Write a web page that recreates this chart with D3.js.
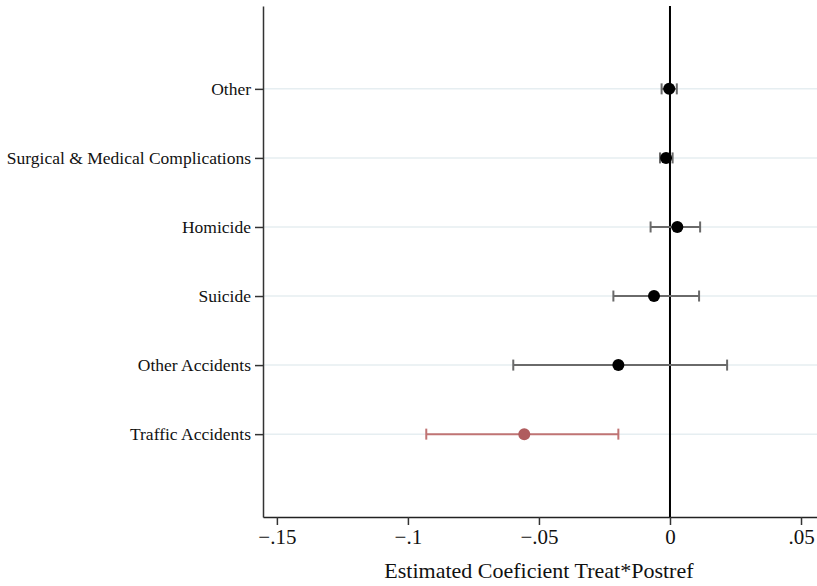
<!DOCTYPE html>
<html>
<head>
    <meta charset="utf-8">
    <title>Coefficient plot</title>
    <style>
        body { margin: 0; background: #fff; }
        text { font-family: "Liberation Serif", "Times New Roman", serif; fill: #111; }
    </style>
    <script src="https://d3js.org/d3.v7.min.js"></script>
</head>
<body>
<div id="chart"></div>
<script>
    // categories, top to bottom
    const categories = ["Other", "Surgical & Medical Complications", "Homicide", "Suicide", "Other Accidents", "Traffic Accidents"];
    // point estimates and 95% CI bounds
    const estimates = [-0.0003, -0.0015, 0.0028, -0.0061, -0.0197, -0.0556];
    const lower = [-0.0032, -0.0038, -0.0074, -0.0216, -0.0598, -0.0930];
    const upper = [0.0026, 0.0010, 0.0115, 0.0111, 0.0218, -0.0197];
    const xTicks = [-0.15, -0.1, -0.05, 0, 0.05];
    const xTickLabels = ["\u2212.15", "\u2212.1", "\u2212.05", "0", ".05"];

    const margin = {top: 6, right: 0, bottom: 69, left: 263},
        width = 817 - margin.left - margin.right,
        height = 586 - margin.top - margin.bottom;

    const svg = d3.select("#chart")
        .append("svg")
        .attr("width", 817)
        .attr("height", 586)
        .append("g")
        .attr("transform", `translate(${margin.left}, ${margin.top})`);

    const x = d3.scaleLinear()
        .domain([-0.1553, 0.0561])
        .range([0, width]);

    const y = d3.scalePoint()
        .domain(categories.slice().reverse())
        .range([height, 0])
        .padding(1.2);

    // light gridlines
    svg.append("g")
        .selectAll("line")
        .data(categories)
        .join("line")
        .attr("x1", 0)
        .attr("x2", width)
        .attr("y1", d => y(d))
        .attr("y2", d => y(d))
        .attr("stroke", "#e6eef1")
        .attr("stroke-width", 1.5);

    // y axis
    const yAxis = svg.append("g")
        .call(d3.axisLeft(y).tickSize(8).tickPadding(4).tickSizeOuter(0));
    yAxis.select(".domain").attr("stroke", "#333").attr("stroke-width", 1.5);
    yAxis.selectAll(".tick line").attr("stroke", "#333").attr("stroke-width", 1.5);
    yAxis.selectAll("text").style("font-size", "17.5px").attr("fill", "#111");

    // x axis
    const xAxis = svg.append("g")
        .attr("transform", `translate(0, ${height})`)
        .call(d3.axisBottom(x).tickValues(xTicks)
            .tickFormat((d, i) => xTickLabels[i])
            .tickSize(8).tickPadding(4).tickSizeOuter(0));
    xAxis.select(".domain").attr("stroke", "#222").attr("stroke-width", 1.5);
    xAxis.selectAll(".tick line").attr("stroke", "#333").attr("stroke-width", 1.5);
    xAxis.selectAll("text").style("font-size", "21px").attr("fill", "#111");

    // x axis title
    svg.append("text")
        .attr("text-anchor", "middle")
        .attr("x", x(-0.05))
        .attr("y", height + 61)
        .style("font-size", "22px")
        .text("Estimated Coeficient Treat*Postref");

    // reference line at zero
    svg.append("line")
        .attr("x1", x(0))
        .attr("x2", x(0))
        .attr("y1", 0)
        .attr("y2", height)
        .attr("stroke", "#000")
        .attr("stroke-width", 2);

    const rows = categories.map((c, i) => ({
        cat: c, est: estimates[i], lo: lower[i], hi: upper[i],
        highlight: c === "Traffic Accidents"
    }));

    const ciColor = d => d.highlight ? "#c07474" : "#6a6a6a";
    const dotColor = d => d.highlight ? "#b05c5e" : "#000";

    const g = svg.append("g")
        .selectAll("g")
        .data(rows)
        .join("g");

    g.append("line")
        .attr("x1", d => x(d.lo))
        .attr("x2", d => x(d.hi))
        .attr("y1", d => y(d.cat))
        .attr("y2", d => y(d.cat))
        .attr("stroke", ciColor)
        .attr("stroke-width", 2);

    g.selectAll(".cap")
        .data(d => [{v: d.lo, d: d}, {v: d.hi, d: d}])
        .join("line")
        .attr("class", "cap")
        .attr("x1", c => x(c.v))
        .attr("x2", c => x(c.v))
        .attr("y1", c => y(c.d.cat) - 5.5)
        .attr("y2", c => y(c.d.cat) + 5.5)
        .attr("stroke", c => ciColor(c.d))
        .attr("stroke-width", 2);

    g.append("circle")
        .attr("cx", d => x(d.est))
        .attr("cy", d => y(d.cat))
        .attr("r", 6)
        .attr("fill", dotColor);
</script>
</body>
</html>
